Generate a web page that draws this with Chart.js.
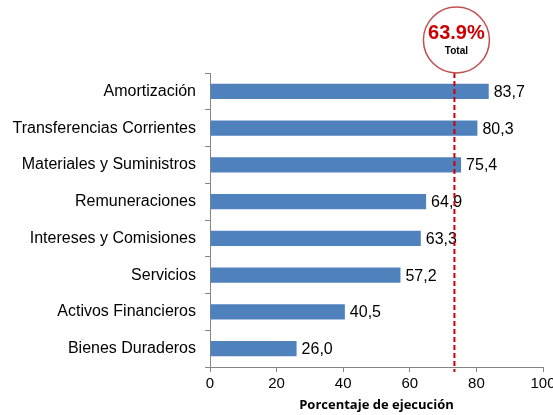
<!DOCTYPE html>
<html>
<head>
<meta charset="utf-8">
<script src="https://cdn.jsdelivr.net/npm/chart.js@4"></script>
<style>
  html, body { margin: 0; padding: 0; background: #fff; }
  #wrap { width: 553px; height: 415px; position: relative; }
</style>
</head>
<body>
<div id="wrap"><canvas id="myChartEjecucion"></canvas></div>
<script>
// categories and execution percentages
const categorias = [
  "Amortización",
  "Transferencias Corrientes",
  "Materiales y Suministros",
  "Remuneraciones",
  "Intereses y Comisiones",
  "Servicios",
  "Activos Financieros",
  "Bienes Duraderos",
];
const ejecucion = [83.7, 80.3, 75.4, 64.9, 63.3, 57.2, 40.5, 26.0];
const xTicks = [0, 20, 40, 60, 80, 100];

// total marker
const totalTexto = "63.9%";
const totalEtiqueta = "Total";
const totalLinea = 73.4;

const barColor = "#4F81BD";
const axisColor = "#868686";
const redColor = "#CC0000";

// value labels with comma decimals
const valueLabels = {
  id: "valueLabels",
  afterDatasetsDraw(chart) {
    const ctx = chart.ctx;
    const meta = chart.getDatasetMeta(0);
    ctx.save();
    ctx.font = "16px 'Liberation Sans', Arial, sans-serif";
    ctx.fillStyle = "#000";
    ctx.textAlign = "left";
    ctx.textBaseline = "middle";
    meta.data.forEach((bar, i) => {
      const txt = ejecucion[i].toFixed(1).replace(".", ",");
      ctx.fillText(txt, bar.x + 5, bar.y + 1);
    });
    ctx.restore();
  },
};

// dashed total line and circled label
const totalMarker = {
  id: "totalMarker",
  afterDraw(chart) {
    const ctx = chart.ctx;
    const x = chart.scales.x.getPixelForValue(totalLinea);
    const area = chart.chartArea;
    const cx = x + 2;
    const cy = 40;
    const r = 33;
    ctx.save();
    ctx.strokeStyle = redColor;
    ctx.lineWidth = 2;
    ctx.setLineDash([5, 3]);
    ctx.beginPath();
    ctx.moveTo(x, cy + r);
    ctx.lineTo(x, area.bottom + 5);
    ctx.stroke();

    ctx.setLineDash([]);
    ctx.fillStyle = "#fff";
    ctx.strokeStyle = "#C0504D";
    ctx.lineWidth = 1.5;
    ctx.beginPath();
    ctx.arc(cx, cy, r, 0, Math.PI * 2);
    ctx.fill();
    ctx.stroke();

    ctx.textAlign = "center";
    ctx.textBaseline = "middle";
    ctx.fillStyle = redColor;
    ctx.font = "bold 20px 'Liberation Sans', Arial, sans-serif";
    ctx.fillText(totalTexto, cx, cy - 7);
    ctx.fillStyle = "#000";
    ctx.font = "bold 10px 'Liberation Sans', Arial, sans-serif";
    ctx.fillText(totalEtiqueta, cx, cy + 11);
    ctx.restore();
  },
};

new Chart(document.getElementById("myChartEjecucion").getContext("2d"), {
  type: "bar",
  data: {
    labels: categorias,
    datasets: [
      {
        data: ejecucion,
        backgroundColor: barColor,
        barPercentage: 0.42,
        categoryPercentage: 1,
      },
    ],
  },
  options: {
    indexAxis: "y",
    responsive: true,
    maintainAspectRatio: false,
    animation: false,
    layout: { padding: { top: 73, right: 10, bottom: 2, left: 0 } },
    plugins: {
      legend: { display: false },
      tooltip: { enabled: false },
    },
    scales: {
      x: {
        min: 0,
        max: 100,
        afterBuildTicks: (scale) => {
          scale.ticks = xTicks.map((v) => ({ value: v }));
        },
        afterFit: (scale) => {
          scale.height = 46;
          scale.paddingRight = 0;
          scale.paddingLeft = 0;
        },
        border: { display: true, color: axisColor, width: 1 },
        grid: {
          drawOnChartArea: false,
          drawTicks: true,
          tickLength: 5,
          color: axisColor,
        },
        ticks: {
          color: "#000",
          padding: 3,
          font: { family: "'Liberation Sans', Arial, sans-serif", size: 15 },
        },
        title: {
          display: true,
          text: "Porcentaje de ejecución",
          color: "#000",
          padding: { top: 1, bottom: 0 },
          font: { family: "'Open Sans', 'DejaVu Sans', sans-serif", size: 13, weight: "bold" },
        },
      },
      y: {
        afterFit: (scale) => {
          scale.width = 210;
        },
        border: { display: true, color: axisColor, width: 1 },
        grid: {
          offset: true,
          drawOnChartArea: false,
          drawTicks: true,
          tickLength: 5,
          color: axisColor,
        },
        ticks: {
          color: "#000",
          padding: 9,
          font: { family: "'Liberation Sans', Arial, sans-serif", size: 16 },
        },
      },
    },
  },
  plugins: [valueLabels, totalMarker],
});
</script>
</body>
</html>
